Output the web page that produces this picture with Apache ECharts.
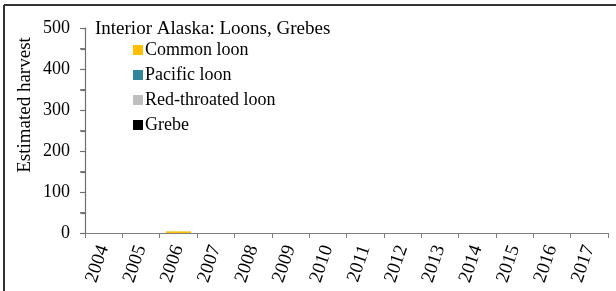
<!DOCTYPE html>
<html>
<head>
<meta charset="utf-8">
<script src="https://cdn.jsdelivr.net/npm/echarts@6/dist/echarts.min.js"></script>
<style>
html,body{margin:0;padding:0;background:#fff;}
#chart{width:616px;height:291px;}
</style>
</head>
<body>
<div id="chart"></div>
<script>
var years = ['2004','2005','2006','2007','2008','2009','2010','2011','2012','2013','2014','2015','2016','2017'];
var commonLoon = [0,0,4,0,0,0,0,0,0,0,0,0,0,0];
var pacificLoon = [0,0,0,0,0,0,0,0,0,0,0,0,0,0];
var redThroatedLoon = [0,0,0,0,0,0,0,0,0,0,0,0,0,0];
var grebe = [0,0,0,0,0,0,0,0,0,0,0,0,0,0];
var yTicks = [0,100,200,300,400,500];
var yTickMarks = [0,50,100,150,200,250,300,350,400,450,500];

var FONT = '"Liberation Serif","Times New Roman",serif';
var axisGray = '#808080';
var chart = echarts.init(document.getElementById('chart'), null, {renderer:'canvas'});
function s(name, data, color){
  return {name:name, type:'bar', stack:'t', data:data, barWidth:'67%',
    itemStyle:{color:color}, emphasis:{disabled:true}};
}
var baseGraphic = [
  {id:'frameTop', type:'line', shape:{x1:4, y1:5, x2:616, y2:5}, style:{stroke:'#333', lineWidth:2}},
  {id:'frameLeft', type:'line', shape:{x1:4, y1:5, x2:4, y2:291}, style:{stroke:'#333', lineWidth:2}},
  {id:'title', type:'text', left:95, top:20, style:{text:'Interior Alaska: Loons, Grebes', font:'19px '+FONT, fill:'#000'}},
  {id:'yName', type:'text', x:25, y:105, rotation:Math.PI/2, style:{text:'Estimated harvest', font:'19px '+FONT, fill:'#000', align:'center', verticalAlign:'middle'}}
];
chart.setOption({
  animation:false,
  backgroundColor:'#fff',
  grid:{left:85, right:8, top:28, bottom:58, containLabel:false},
  legend:{
    orient:'vertical', left:128, top:36, itemWidth:10, itemHeight:10, itemGap:7,
    icon:'rect', selectedMode:false,
    textStyle:{fontFamily:FONT, fontSize:18, color:'#000', padding:[0,0,0,-3]},
    data:['Common loon','Pacific loon','Red-throated loon','Grebe']
  },
  xAxis:[{
    type:'category', data:years,
    axisLine:{show:true, onZero:false, lineStyle:{color:axisGray, width:1}},
    axisTick:{show:true, length:5, lineStyle:{color:axisGray}},
    axisLabel:{rotate:71, interval:0, margin:13, fontFamily:FONT, fontSize:19, color:'#000'}
  }],
  yAxis:[{
    type:'value', min:yTicks[0], max:yTicks[yTicks.length-1], interval:50,
    axisLine:{show:true, lineStyle:{color:axisGray, width:1}},
    axisTick:{show:true, length:5, lineStyle:{color:axisGray, width:1}},
    splitLine:{show:false},
    axisLabel:{margin:15, fontFamily:FONT, fontSize:18, color:'#000',
      formatter:function(v){ return yTicks.indexOf(v) >= 0 ? String(v) : ''; }}
  }],
  graphic:baseGraphic,
  series:[
    s('Common loon', commonLoon, '#FFC000'),
    s('Pacific loon', pacificLoon, '#31859C'),
    s('Red-throated loon', redThroatedLoon, '#BFBFBF'),
    s('Grebe', grebe, '#000000')
  ]
});

// Y axis line and ticks, placed through the chart's own scales
var c0 = chart.convertToPixel({xAxisIndex:0}, years[0]);
var c1 = chart.convertToPixel({xAxisIndex:0}, years[1]);
var axX = Math.round(c0 - (c1 - c0) / 2) + 0.5;
var yBottom = chart.convertToPixel({yAxisIndex:0}, yTickMarks[0]);
var yTop = chart.convertToPixel({yAxisIndex:0}, yTickMarks[yTickMarks.length-1]);
var extra = [];
if (isFinite(axX) && isFinite(yTop) && isFinite(yBottom)) {
  extra.push({id:'yAxisLine', type:'line', z:50, shape:{x1:axX, y1:yTop, x2:axX, y2:yBottom},
    style:{stroke:'#6f6f6f', lineWidth:1.2}});
  yTickMarks.forEach(function(v, i){
    var py = Math.round(chart.convertToPixel({yAxisIndex:0}, v)) + 0.5;
    extra.push({id:'yTick'+i, type:'line', z:50, shape:{x1:axX-5, y1:py, x2:axX, y2:py},
      style:{stroke:'#6f6f6f', lineWidth:1.2}});
  });
}
chart.setOption({graphic: baseGraphic.concat(extra)});
</script>
</body>
</html>
